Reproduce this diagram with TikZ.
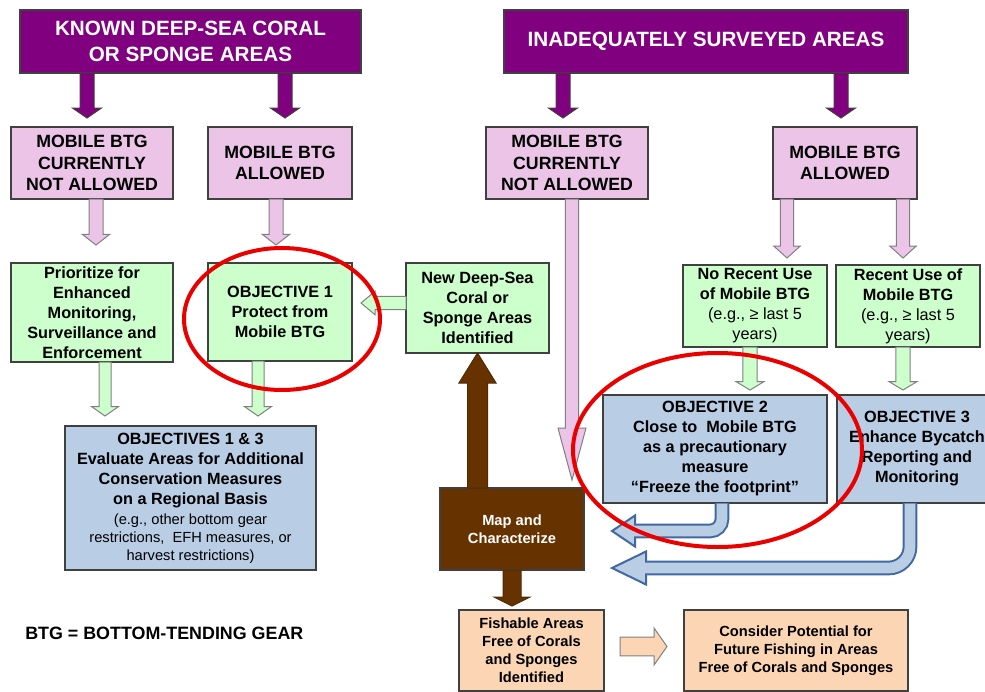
\documentclass[tikz,border=0pt]{standalone}
\usepackage{fontspec}
\setmainfont{Liberation Sans}
\usetikzlibrary{calc}
\definecolor{purp}{RGB}{128,0,128}
\definecolor{pinkc}{RGB}{236,196,232}
\definecolor{greenc}{RGB}{204,255,204}
\definecolor{bluec}{RGB}{185,205,229}
\definecolor{blueline}{RGB}{65,105,160}
\definecolor{brownc}{RGB}{102,51,0}
\definecolor{orangec}{RGB}{252,213,181}
\definecolor{bordc}{RGB}{64,64,64}
\definecolor{redc}{RGB}{235,0,0}
\newcommand{\smf}{\fontsize{11}{13.5}\selectfont\mdseries}
% block arrows: #1 style, #2 start, #3 tip, #4 shaft half width, #5 head half width, #6 head length
\newcommand{\blkdown}[6]{\path[#1] let \p1=#2, \p2=#3 in (\x1-#4,\y1) -- (\x1+#4,\y1) -- (\x1+#4,\y2+#6) -- (\x1+#5,\y2+#6) -- (\x1,\y2) -- (\x1-#5,\y2+#6) -- (\x1-#4,\y2+#6) -- cycle;}
\newcommand{\blkup}[6]{\path[#1] let \p1=#2, \p2=#3 in (\x1-#4,\y1) -- (\x1+#4,\y1) -- (\x1+#4,\y2-#6) -- (\x1+#5,\y2-#6) -- (\x1,\y2) -- (\x1-#5,\y2-#6) -- (\x1-#4,\y2-#6) -- cycle;}
\newcommand{\blkleft}[6]{\path[#1] let \p1=#2, \p2=#3 in (\x1,\y1-#4) -- (\x1,\y1+#4) -- (\x2+#6,\y1+#4) -- (\x2+#6,\y1+#5) -- (\x2,\y1) -- (\x2+#6,\y1-#5) -- (\x2+#6,\y1-#4) -- cycle;}
\newcommand{\blkright}[6]{\path[#1] let \p1=#2, \p2=#3 in (\x1,\y1-#4) -- (\x1,\y1+#4) -- (\x2-#6,\y1+#4) -- (\x2-#6,\y1+#5) -- (\x2,\y1) -- (\x2-#6,\y1-#5) -- (\x2-#6,\y1-#4) -- cycle;}
\begin{document}
\begin{tikzpicture}[x=0.75pt,y=-0.75pt,
 box/.style={draw=bordc, line width=1pt, inner sep=0pt, outer sep=0pt, align=center},
 purplebox/.style={box, fill=purp, text=white, font=\fontsize{15.5}{19}\selectfont\bfseries},
 pinkbox/.style={box, fill=pinkc, font=\fontsize{13.3}{16.3}\selectfont\bfseries},
 greenbox/.style={box, fill=greenc, font=\fontsize{12.2}{15}\selectfont\bfseries},
 bluebox/.style={box, fill=bluec, font=\fontsize{12.2}{15}\selectfont\bfseries},
 brownbox/.style={box, fill=brownc, text=white, font=\fontsize{11}{13.5}\selectfont\bfseries},
 orangebox/.style={box, fill=orangec, font=\fontsize{11}{13.5}\selectfont\bfseries},
 purparr/.style={fill=purp, draw=bordc, line width=0.75pt},
 pinkarr/.style={fill=pinkc, draw=gray, line width=0.75pt},
 greenarr/.style={fill=greenc, draw=gray, line width=0.75pt},
 brownarr/.style={fill=brownc, draw=brownc!80!black, line width=0.75pt},
 orangearr/.style={fill=orangec, draw=gray, line width=0.75pt},
 blueout/.style={draw=blueline, line width=11pt},
 bluein/.style={draw=bluec, line width=8pt},
 bluehead/.style={fill=bluec, draw=blueline, line width=1.5pt, line join=miter},
 ring/.style={draw=redc, line width=3pt},
]
\useasboundingbox (0,0) rectangle (985,692);
\fill[white] (0,0) rectangle (985,692);
\clip (0,0) rectangle (985,692);

% header boxes
\node[purplebox, minimum width=255.75pt, minimum height=47.25pt] (TL) at (190.5,41.5) {KNOWN DEEP-SEA CORAL\\OR SPONGE AREAS};
\node[purplebox, minimum width=303pt, minimum height=47.25pt] (TR) at (706,41.5) {INADEQUATELY SURVEYED AREAS};

% pink boxes
\node[pinkbox, minimum width=121.5pt, minimum height=54pt] (L1) at (92,163) {MOBILE BTG\\CURRENTLY\\NOT ALLOWED};
\node[pinkbox, minimum width=108pt, minimum height=54pt] (L2) at (280,163) {MOBILE BTG\\ALLOWED};
\node[pinkbox, minimum width=121.5pt, minimum height=54pt] (R1) at (567,163) {MOBILE BTG\\CURRENTLY\\NOT ALLOWED};
\node[pinkbox, minimum width=108pt, minimum height=54pt] (R2) at (845,163) {MOBILE BTG\\ALLOWED};

% green boxes
\node[greenbox, minimum width=121.5pt, minimum height=74.25pt] (G1) at (92,312.5) {Prioritize for\\Enhanced\\Monitoring,\\Surveillance and\\Enforcement};
\node[greenbox, minimum width=108pt, minimum height=73.5pt] (G2) at (280,312) {OBJECTIVE 1\\Protect from\\Mobile BTG};
\node[greenbox, minimum width=107.25pt, minimum height=67.5pt] (G3) at (477.5,308) {New Deep-Sea\\Coral or\\Sponge Areas\\Identified};
\node[greenbox, minimum width=108pt, minimum height=61.5pt] (G4) at (755,306) {No Recent Use\\of Mobile BTG\\{\mdseries (e.g., ≥ last 5}\\{\mdseries years)}};
\node[greenbox, minimum width=108pt, minimum height=61.5pt] (G5) at (908,306) {Recent Use of\\Mobile BTG\\{\mdseries (e.g., ≥ last 5}\\{\mdseries years)}};

% blue boxes
\node[bluebox, minimum width=188.25pt, minimum height=108pt] (B1) at (190.5,498) {OBJECTIVES 1 \& 3\\Evaluate Areas for Additional\\Conservation Measures\\on a Regional Basis\\{\smf (e.g., other bottom gear}\\[-1.5pt]{\smf restrictions,\ \ EFH measures, or}\\[-1.5pt]{\smf harvest restrictions)}};
\node[bluebox, minimum width=168pt, minimum height=81pt] (B2) at (715,449) {OBJECTIVE 2\\Close to\ \ Mobile BTG\\as a precautionary\\measure\\“Freeze the footprint”};
\node[bluebox, minimum width=120pt, minimum height=81pt] (B3) at (917,449) {OBJECTIVE 3\\Enhance Bycatch\\Reporting and\\Monitoring};

% brown and orange boxes
\node[brownbox, minimum width=108pt, minimum height=61.5pt] (Map) at (512,529) {Map and\\Characterize};
\node[orangebox, minimum width=108.75pt, minimum height=60.75pt] (Fish) at (531.5,650.5) {Fishable Areas\\Free of Corals\\and Sponges\\Identified};
\node[orangebox, minimum width=168pt, minimum height=60.75pt] (Cons) at (796,650.5) {Consider Potential for\\Future Fishing in Areas\\Free of Corals and Sponges};

\node[anchor=west, inner sep=0pt, font=\fontsize{13.4}{16}\selectfont\bfseries] (key) at (25,633) {BTG = BOTTOM-TENDING GEAR};

% purple arrows
\blkdown{purparr}{($(L1.north|-TL.south)+(-5,0)$)}{($(L1.north)+(-5,-9)$)}{5.25pt}{10.9pt}{7.5pt}
\blkdown{purparr}{($(L2.north|-TL.south)+(5,0)$)}{($(L2.north)+(5,-9)$)}{5.25pt}{10.9pt}{7.5pt}
\blkdown{purparr}{($(R1.north|-TR.south)+(-4,0)$)}{($(R1.north)+(-4,-9)$)}{5.25pt}{10.9pt}{7.5pt}
\blkdown{purparr}{($(R2.north|-TR.south)+(-4,0)$)}{($(R2.north)+(-4,-9)$)}{5.25pt}{10.9pt}{7.5pt}

% pink arrows
\blkdown{pinkarr}{($(L1.south)+(4,0)$)}{($(L1.south|-G1.north)+(4,-18)$)}{5.25pt}{10.3pt}{8pt}
\blkdown{pinkarr}{($(L2.south)+(-4,0)$)}{($(L2.south|-G2.north)+(-4,-18)$)}{5.25pt}{10.3pt}{8pt}
\blkdown{pinkarr}{($(R1.south)+(5,0)$)}{($(R1.south|-Map.north)+(5,-8)$)}{4.9pt}{10.5pt}{39pt}
\blkdown{pinkarr}{($(R2.south)+(-58,0)$)}{($(R2.south|-G4.north)+(-58,-7)$)}{4.9pt}{10pt}{9pt}
\blkdown{pinkarr}{($(R2.south)+(58,0)$)}{($(R2.south|-G5.north)+(58,-7)$)}{4.9pt}{10pt}{9pt}

% green arrows
\blkdown{greenarr}{($(G1.south)+(13,0)$)}{($(G1.south|-B1.north)+(13,-10)$)}{4.5pt}{10pt}{7pt}
\blkdown{greenarr}{($(G2.south)+(-22,0)$)}{($(G2.south|-B1.north)+(-22,-10)$)}{4.5pt}{10pt}{7pt}
\blkdown{greenarr}{($(G4.south)+(-5,0)$)}{($(G4.south|-B2.north)+(-5,-5)$)}{5.4pt}{10.4pt}{6.25pt}
\blkdown{greenarr}{($(G5.south)+(-5,0)$)}{($(G5.south|-B3.north)+(-5,-5)$)}{5.4pt}{10.4pt}{6.25pt}
\blkleft{greenarr}{($(G3.west)+(0,-5)$)}{($(G2.east|-G3.west)+(9,-5)$)}{5pt}{8.75pt}{10.5pt}

% brown arrows
\blkup{brownarr}{(G3.south|-Map.north)}{(G3.south)}{7.5pt}{13.9pt}{22.5pt}
\blkdown{brownarr}{(Map.south)}{($(Map.south|-Fish.north)+(0,-4)$)}{6.75pt}{13.5pt}{6.75pt}

% orange arrow
\blkright{orangearr}{($(Fish.east)+(16,-4)$)}{($(Cons.west)+(-17,-4)$)}{7.1pt}{13.9pt}{9.75pt}

% blue bent arrows
\coordinate (s1) at ($(B2.south)+(7,0)$);
\coordinate (t1) at (612,531);
\coordinate (s2) at ($(B3.south)+(-7,0)$);
\coordinate (t2) at (612,568);
\draw[blueout, rounded corners=9pt] (s1) -- (s1|-t1) -- ($(t1)+(24,0)$);
\draw[bluehead] (t1) -- ($(t1)+(23,-15.5)$) -- ($(t1)+(23,15.5)$) -- cycle;
\draw[bluein, rounded corners=9pt] ($(s1)+(0,0.7)$) -- (s1|-t1) -- ($(t1)+(21,0)$);
\draw[blueout, rounded corners=16pt] (s2) -- (s2|-t2) -- ($(t2)+(35,0)$);
\draw[bluehead] (t2) -- ($(t2)+(34,-16.5)$) -- ($(t2)+(34,16.5)$) -- cycle;
\draw[bluein, rounded corners=16pt] ($(s2)+(0,0.7)$) -- (s2|-t2) -- ($(t2)+(32,0)$);

% red rings
\draw[ring] (282,319) ellipse [x radius=98, y radius=71];
\draw[ring] (717.5,450) ellipse [x radius=144.5, y radius=97];
\end{tikzpicture}
\end{document}
